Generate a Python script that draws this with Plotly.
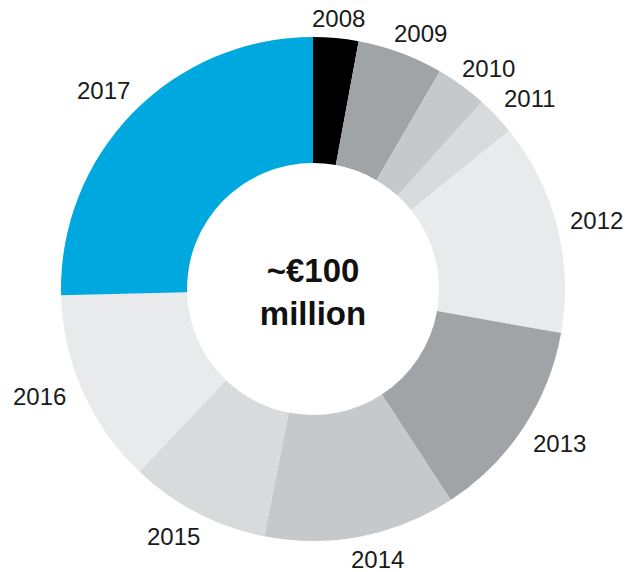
import math
import plotly.graph_objects as go

# Annual contributions (EUR million), adding up to roughly 100
years = ["2008", "2009", "2010", "2011", "2012", "2013", "2014", "2015", "2016", "2017"]
amounts = [2.9, 5.5, 3.3, 2.5, 13.6, 13.0, 12.3, 9.0, 12.5, 25.4]
slice_colors = ["#000000", "#a0a4a7", "#c6c9cb", "#d9dadc", "#e9eaec",
                "#a0a4a7", "#c6c9cb", "#d9dadc", "#e9eaec", "#00a8e0"]

W, H = 630, 572
cx, cy, R = 313, 289, 252          # pie centre and outer radius in pixels
LABEL_FONT = dict(family="Liberation Sans", size=24, color="#1a1a1a")

# Hand-tuned pixel offsets for each year label (dx right, dy down)
label_nudge = [(0, 4), (10, 9), (6, 11), (6, 9), (0, 4),
               (3, -6), (12, -2), (-9, -5), (-6, -11), (-2, 4)]

fig = go.Figure(go.Pie(
    labels=years,
    values=amounts,
    sort=False,
    direction="clockwise",
    rotation=0,
    hole=0.5,
    marker=dict(colors=slice_colors, line=dict(width=0)),
    textinfo="none",
    hoverinfo="label+value",
    showlegend=False,
    domain=dict(x=[(cx - R) / W, (cx + R) / W],
                y=[(H - cy - R) / H, (H - cy + R) / H]),
    title=dict(text="<b>~€100<br>million</b>", position="middle center",
               font=dict(family="Liberation Sans", size=33, color="#111111")),
))

# Year labels sit just outside the ring, at the middle angle of each slice
total = sum(amounts)
gap, half_w, half_h = 12, 27, 9
start = 0.0
annotations = []
for year, val, (dx, dy) in zip(years, amounts, label_nudge):
    mid = math.radians((start + val / 2) / total * 360)
    start += val
    s, c = math.sin(mid), math.cos(mid)
    r = R + gap + abs(s) * half_w + abs(c) * half_h
    px, py = cx + r * s + dx, cy - r * c + dy
    annotations.append(dict(
        x=px / W, y=1 - py / H, xref="paper", yref="paper",
        text=year, showarrow=False, xanchor="center", yanchor="middle",
        font=LABEL_FONT,
    ))

fig.update_layout(
    width=W, height=H,
    margin=dict(l=0, r=0, t=0, b=0),
    paper_bgcolor="white",
    plot_bgcolor="white",
    annotations=annotations,
)

fig.write_html("out.html")
